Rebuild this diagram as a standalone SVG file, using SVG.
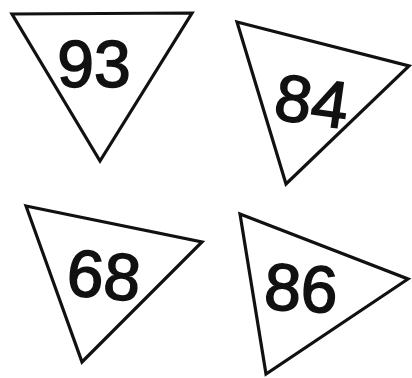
<svg xmlns="http://www.w3.org/2000/svg" width="412" height="378" viewBox="0 0 412 378">
<style>
.tri{fill:#fff;stroke:#111;stroke-width:3.2;stroke-linejoin:miter}
.num{font-family:"Liberation Sans",Arial,sans-serif;font-size:66px;fill:#111;stroke:#111;stroke-width:1.6;text-anchor:middle}
</style>
<rect width="412" height="378" fill="#fff"/>
<g id="t93">
<polygon class="tri" points="12,14 192,13 100,161"/>
<text class="num" x="94" y="87">93</text>
</g>
<g id="t84">
<polygon class="tri" points="237,22 409,66 286,184"/>
<text class="num" x="312" y="124" transform="rotate(8 312 100)">84</text>
</g>
<g id="t68">
<polygon class="tri" points="26,206 202,242 82,362"/>
<text class="num" x="104" y="298" transform="rotate(5 104 274)">68</text>
</g>
<g id="t86">
<polygon class="tri" points="240,214 408,279 266,374"/>
<text class="num" x="301" y="311" transform="rotate(3 301 288)">86</text>
</g>
</svg>
